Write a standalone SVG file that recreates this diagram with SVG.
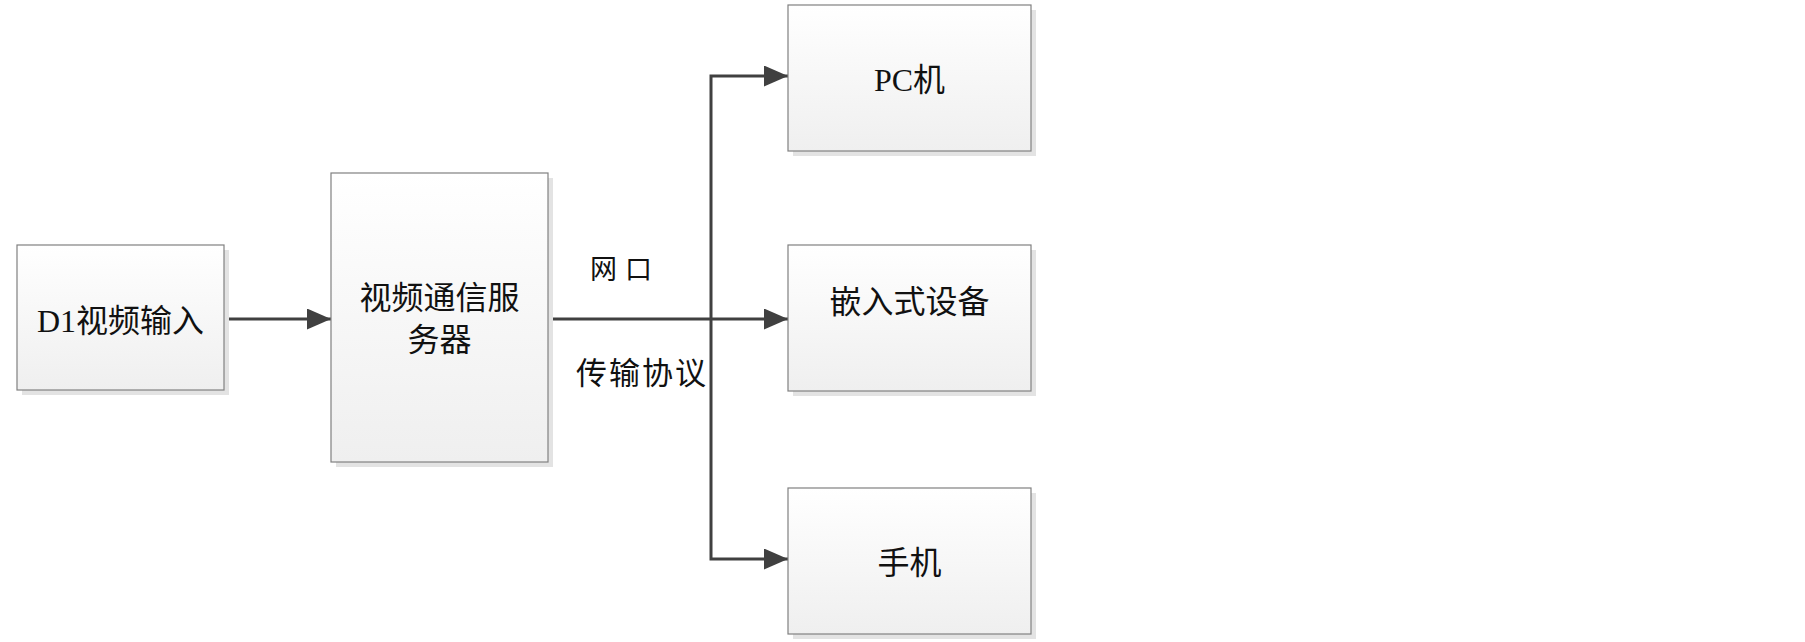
<svg xmlns="http://www.w3.org/2000/svg" width="1805" height="642" viewBox="0 0 1805 642">
<style>
.box{fill:url(#g);stroke:#808080;stroke-width:1.2}
.sh{fill:#e3e3e3}
.t{font-family:"Liberation Serif","Noto Sans CJK SC",serif;font-size:32px;fill:#111;text-anchor:middle}
.l{font-family:"Liberation Serif","Noto Sans CJK SC",serif;fill:#111}
.c{fill:none;stroke:#404040;stroke-width:3;marker-end:url(#a)}
</style>
<defs>
<linearGradient id="g" x1="0" y1="0" x2="0" y2="1">
<stop offset="0" stop-color="#ffffff"/>
<stop offset="1" stop-color="#efefef"/>
</linearGradient>
<marker id="a" markerUnits="userSpaceOnUse" markerWidth="24" markerHeight="22" refX="24" refY="10.5" orient="auto">
<path d="M0,0 L24,10.5 L0,21 z" fill="#404040"/>
</marker>
</defs>
<rect width="1805" height="642" fill="#ffffff"/>
<g id="connectors">
<path class="c" d="M224,319 H331"/>
<path class="c" d="M548,319 H788"/>
<path class="c" d="M711,319 V76 H788"/>
<path class="c" d="M711,319 V559 H788"/>
</g>
<g id="labels">
<text class="l" x="590" y="279" font-size="27" letter-spacing="8">网口</text>
<text class="l" x="576" y="384" font-size="31" letter-spacing="2">传输协议</text>
</g>
<g id="d1">
<rect class="sh" x="22" y="250" width="207" height="145"/>
<rect class="box" x="17" y="245" width="207" height="145"/>
<text class="t" x="120.5" y="332">D1视频输入</text>
</g>
<g id="server">
<rect class="sh" x="336" y="178" width="217" height="289"/>
<rect class="box" x="331" y="173" width="217" height="289"/>
<text class="t" x="439.5" y="309">视频通信服</text>
<text class="t" x="439.5" y="351">务器</text>
</g>
<g id="pc">
<rect class="sh" x="793" y="10" width="243" height="146"/>
<rect class="box" x="788" y="5" width="243" height="146"/>
<text class="t" x="909.5" y="91">PC机</text>
</g>
<g id="embedded">
<rect class="sh" x="793" y="250" width="243" height="146"/>
<rect class="box" x="788" y="245" width="243" height="146"/>
<text class="t" x="909.5" y="313">嵌入式设备</text>
</g>
<g id="phone">
<rect class="sh" x="793" y="493" width="243" height="146"/>
<rect class="box" x="788" y="488" width="243" height="146"/>
<text class="t" x="909.5" y="574">手机</text>
</g>
</svg>
